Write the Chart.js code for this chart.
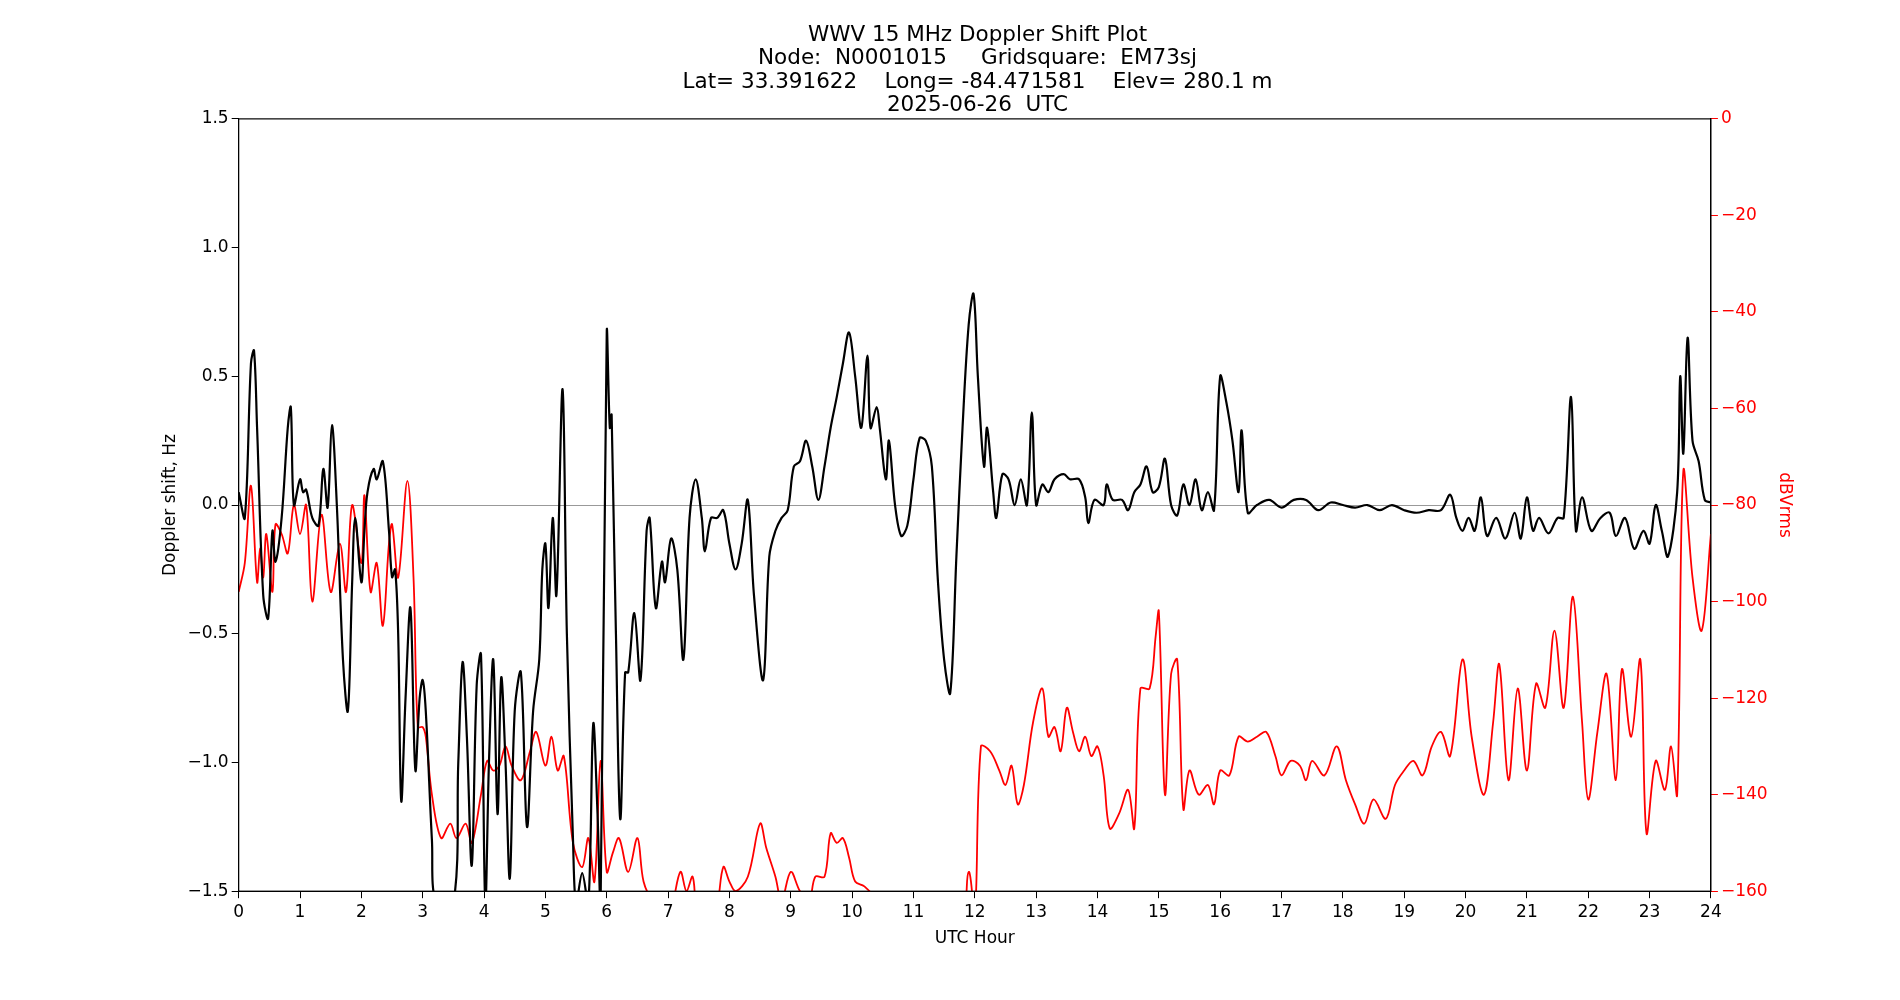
<!DOCTYPE html>
<html><head><meta charset="utf-8">
<script src="https://cdn.jsdelivr.net/npm/chart.js@4/dist/chart.umd.min.js"></script>
<style>html,body{margin:0;background:#fff}#wrap{width:1900px;height:1000px}</style>
</head><body><div id="wrap"><canvas id="c"></canvas></div>
<script>
// Doppler shift (Hz) vs UTC hour
const dopHours = [0,0.1,0.2,0.25,0.3,0.4,0.48,0.55,0.6,0.7,0.8,0.85,0.9,1.0,1.05,1.1,1.2,1.3,1.38,1.45,1.52,1.6,1.7,1.78,1.85,1.9,2.0,2.05,2.1,2.2,2.25,2.35,2.45,2.5,2.55,2.6,2.65,2.72,2.8,2.88,2.95,3.0,3.05,3.15,3.22,3.5,3.58,3.65,3.72,3.8,3.88,3.95,4.02,4.08,4.15,4.22,4.28,4.35,4.42,4.5,4.6,4.7,4.8,4.9,4.95,5.0,5.05,5.12,5.18,5.28,5.35,5.45,5.5,5.6,5.7,5.78,5.85,5.9,6.0,6.05,6.08,6.15,6.22,6.3,6.35,6.45,6.55,6.65,6.7,6.8,6.9,6.95,7.05,7.15,7.25,7.35,7.45,7.55,7.6,7.7,7.8,7.9,8.0,8.1,8.2,8.3,8.4,8.55,8.65,8.75,8.85,8.95,9.05,9.15,9.25,9.35,9.45,9.55,9.65,9.75,9.85,9.95,10.05,10.15,10.25,10.3,10.4,10.45,10.55,10.6,10.7,10.8,10.9,11.0,11.1,11.2,11.3,11.4,11.5,11.6,11.7,11.8,11.9,11.98,12.05,12.15,12.2,12.3,12.35,12.45,12.55,12.65,12.75,12.85,12.93,13.0,13.1,13.2,13.3,13.45,13.55,13.7,13.8,13.85,13.95,14.1,14.15,14.25,14.4,14.5,14.6,14.7,14.8,14.9,15.0,15.1,15.2,15.3,15.4,15.5,15.6,15.7,15.8,15.9,16.0,16.1,16.2,16.3,16.35,16.45,16.6,16.8,17.0,17.2,17.4,17.6,17.8,18.0,18.2,18.4,18.6,18.8,19.0,19.2,19.4,19.6,19.75,19.85,19.95,20.05,20.15,20.25,20.35,20.5,20.65,20.8,20.9,21.0,21.1,21.2,21.35,21.5,21.6,21.72,21.8,21.9,22.05,22.2,22.35,22.45,22.6,22.75,22.9,23.0,23.1,23.2,23.3,23.45,23.5,23.55,23.62,23.7,23.8,23.9,24];
const dopValues = [0.05,-0.05,0.55,0.6,0.3,-0.35,-0.44,-0.1,-0.22,-0.05,0.3,0.38,0.0,0.1,0.05,0.06,-0.05,-0.08,0.14,-0.01,0.31,0.0,-0.6,-0.8,-0.3,-0.05,-0.3,-0.1,0.05,0.14,0.1,0.17,-0.1,-0.28,-0.25,-0.5,-1.15,-0.75,-0.4,-1.03,-0.75,-0.68,-0.8,-1.3,-1.55,-1.55,-1.0,-0.61,-0.9,-1.4,-0.7,-0.58,-1.55,-1.0,-0.6,-1.2,-0.67,-1.0,-1.45,-0.8,-0.65,-1.25,-0.8,-0.6,-0.25,-0.15,-0.4,-0.05,-0.35,0.45,-0.5,-1.3,-1.55,-1.43,-1.55,-0.85,-1.2,-1.55,0.67,0.3,0.35,-0.5,-1.22,-0.65,-0.65,-0.42,-0.68,-0.1,-0.05,-0.4,-0.22,-0.3,-0.13,-0.25,-0.6,-0.05,0.1,-0.05,-0.18,-0.05,-0.05,-0.02,-0.15,-0.25,-0.15,0.02,-0.35,-0.68,-0.2,-0.1,-0.05,-0.02,0.15,0.17,0.25,0.15,0.02,0.15,0.3,0.42,0.55,0.67,0.5,0.3,0.58,0.3,0.38,0.3,0.1,0.25,0.0,-0.12,-0.08,0.1,0.26,0.25,0.15,-0.3,-0.6,-0.73,-0.2,0.3,0.7,0.82,0.5,0.15,0.3,0.05,-0.05,0.12,0.1,0.0,0.1,0.0,0.36,0.0,0.08,0.05,0.1,0.12,0.1,0.1,0.03,-0.07,0.02,0.0,0.08,0.02,0.02,-0.02,0.05,0.08,0.15,0.05,0.07,0.18,0.0,-0.04,0.08,0.0,0.1,-0.02,0.05,-0.02,0.5,0.4,0.25,0.05,0.29,-0.03,0.0,0.02,-0.01,0.02,0.02,-0.02,0.01,0.0,-0.01,0.0,-0.02,0.0,-0.02,-0.03,-0.02,-0.02,0.04,-0.05,-0.1,-0.05,-0.1,0.03,-0.12,-0.05,-0.13,-0.03,-0.13,0.03,-0.1,-0.05,-0.11,-0.05,-0.05,0.42,-0.1,0.03,-0.1,-0.05,-0.03,-0.12,-0.05,-0.17,-0.1,-0.15,0.0,-0.1,-0.2,0.05,0.5,0.2,0.65,0.25,0.17,0.02,0.01];
// Signal level (dBVrms) vs UTC hour
const levHours = [0,0.1,0.2,0.3,0.35,0.4,0.45,0.55,0.6,0.7,0.8,0.9,1.0,1.1,1.2,1.35,1.5,1.65,1.75,1.85,2.0,2.05,2.15,2.25,2.35,2.45,2.5,2.6,2.75,2.85,2.92,3.0,3.05,3.15,3.3,3.45,3.55,3.7,3.8,3.95,4.05,4.15,4.25,4.35,4.45,4.6,4.75,4.85,5.0,5.1,5.2,5.3,5.45,5.6,5.7,5.8,5.9,6.0,6.1,6.2,6.35,6.5,6.6,6.75,7.0,7.2,7.3,7.4,7.5,7.75,7.9,8.0,8.1,8.3,8.5,8.6,8.75,8.85,9.0,9.15,9.3,9.4,9.55,9.65,9.75,9.85,9.95,10.05,10.2,10.4,10.5,11.7,11.9,12.0,12.1,12.25,12.4,12.5,12.6,12.7,12.8,12.95,13.1,13.2,13.3,13.4,13.5,13.6,13.7,13.8,13.9,14.0,14.1,14.2,14.35,14.5,14.6,14.7,14.85,14.95,15.0,15.1,15.2,15.3,15.4,15.5,15.65,15.8,15.9,16.0,16.15,16.3,16.45,16.6,16.75,16.9,17.0,17.15,17.3,17.4,17.5,17.7,17.9,18.05,18.2,18.35,18.5,18.7,18.85,19.0,19.15,19.3,19.45,19.6,19.75,19.95,20.1,20.3,20.45,20.55,20.7,20.85,21.0,21.15,21.3,21.45,21.6,21.75,21.9,22.0,22.15,22.3,22.45,22.55,22.7,22.85,22.95,23.1,23.25,23.35,23.45,23.55,23.7,23.85,24.0];
const levValues = [-98,-92,-76,-96,-89,-95,-86,-98,-84,-86,-90,-80,-86,-80,-100,-82,-98,-88,-98,-80,-92,-78,-98,-92,-105,-88,-84,-95,-75,-95,-126,-126,-128,-140,-149,-146,-149,-146,-150,-140,-133,-135,-134,-130,-134,-137,-131,-127,-134,-128,-135,-132,-150,-155,-149,-158,-133,-156,-152,-149,-156,-149,-158,-162,-165,-156,-160,-157,-165,-165,-155,-158,-160,-157,-146,-151,-157,-162,-156,-160,-162,-157,-157,-148,-150,-149,-153,-158,-159,-162,-168,-168,-156,-165,-130,-131,-135,-138,-134,-142,-138,-125,-118,-128,-126,-131,-122,-127,-131,-128,-132,-130,-136,-147,-144,-139,-147,-118,-118,-107,-102,-140,-115,-112,-143,-135,-140,-138,-142,-135,-136,-128,-129,-128,-127,-132,-136,-133,-134,-137,-133,-136,-130,-137,-142,-146,-141,-145,-138,-135,-133,-136,-130,-127,-132,-112,-128,-140,-125,-113,-137,-118,-135,-117,-122,-106,-122,-99,-125,-141,-127,-115,-137,-114,-128,-112,-148,-133,-139,-130,-140,-73,-95,-106,-86];
const dopTicks = [-1.5,-1.0,-0.5,0.0,0.5,1.0,1.5];
const titleLines = ['WWV 15 MHz Doppler Shift Plot','Node:  N0001015     Gridsquare:  EM73sj','Lat= 33.391622    Long= -84.471581    Elev= 280.1 m','2025-06-26  UTC'];

const pts = (xs, ys) => xs.map((x, i) => ({x, y: ys[i]}));
const fnt = {family: 'DejaVu Sans', size: 17};
const frame = {id: 'frame', afterDraw(ch) {
  const a = ch.chartArea, c = ch.ctx;
  c.save(); c.strokeStyle = '#000'; c.lineWidth = 1.2;
  c.strokeRect(a.left, a.top, a.right - a.left, a.bottom - a.top); c.restore();
}};

new Chart(document.getElementById('c'), {
  type: 'line',
  data: {datasets: [
    {data: pts(dopHours, dopValues), yAxisID: 'y', borderColor: '#000', borderWidth: 2.2, pointRadius: 0, tension: 0.35},
    {data: pts(levHours, levValues), yAxisID: 'y2', borderColor: '#f00', borderWidth: 1.8, pointRadius: 0, tension: 0.35}
  ]},
  options: {
    responsive: true, maintainAspectRatio: false, animation: false,
    layout: {padding: {left: 156, right: 101, top: 4, bottom: 49}},
    plugins: {legend: {display: false}, tooltip: {enabled: false},
      title: {display: true, text: titleLines, color: '#000', font: {family: 'DejaVu Sans', size: 21.5, weight: 'normal', lineHeight: 1.08}, padding: {top: 20, bottom: 2}}},
    scales: {
      x: {type: 'linear', min: 0, max: 24,
        ticks: {stepSize: 1, color: '#000', font: fnt, padding: 4},
        grid: {drawOnChartArea: false, color: '#000', tickLength: 7},
        border: {color: '#000'},
        title: {display: true, text: 'UTC Hour', color: '#000', font: fnt, padding: 2}},
      y: {min: -1.5, max: 1.5, position: 'left', afterBuildTicks: ax => { ax.ticks = dopTicks.map(v => ({value: v})); },
        ticks: {color: '#000', font: fnt, callback: v => v.toFixed(1).replace('-', '\u2212')},
        grid: {color: ctx => ctx.tick && ctx.tick.value === 0 ? '#999' : 'rgba(0,0,0,0)', tickColor: '#000', tickLength: 7},
        border: {color: '#000'},
        title: {display: true, text: 'Doppler shift, Hz', color: '#000', font: fnt}},
      y2: {min: -160, max: 0, position: 'right',
        ticks: {stepSize: 20, color: '#f00', font: fnt, callback: v => String(v).replace('-', '\u2212')},
        grid: {drawOnChartArea: false, color: '#f00', tickLength: 7},
        border: {color: '#000'},
        title: {display: true, text: 'dBVrms', color: '#f00', font: fnt}}
    }
  },
  plugins: [frame]
});
</script></body></html>
